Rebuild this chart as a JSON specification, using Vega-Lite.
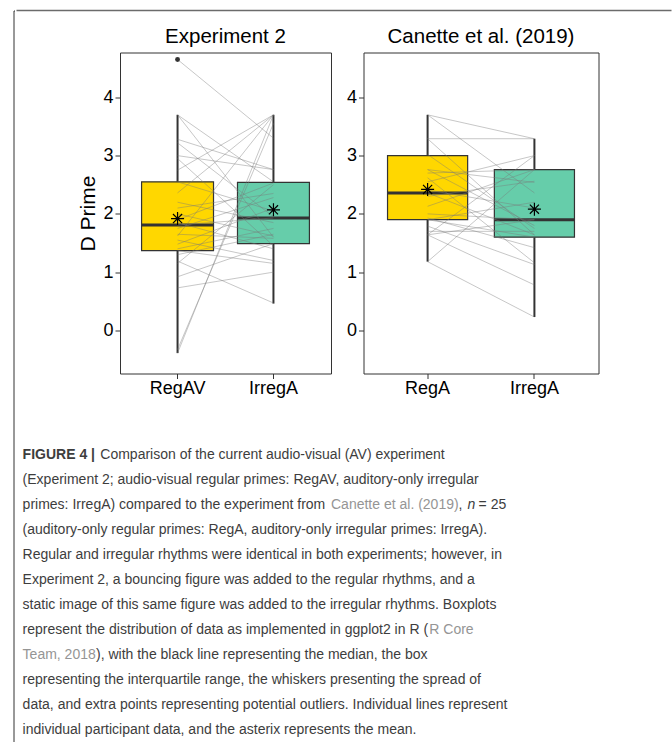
{
  "$schema": "https://vega.github.io/schema/vega-lite/v6.json",
  "background": "white",
  "padding": {"left": 12.5, "top": 9.5, "right": 0, "bottom": 0},
  "autosize": {"type": "pad"},
  "config": {
    "font": "Liberation Sans",
    "view": {"stroke": "#333333", "strokeWidth": 1},
    "axis": {"labelFont": "Liberation Sans", "labelFontSize": 18, "labelColor": "#000000", "titleFont": "Liberation Sans", "titleFontSize": 21, "titleFontWeight": "normal", "titleColor": "#000000", "tickColor": "#333333", "tickSize": 5, "domain": false, "grid": false},
    "title": {"font": "Liberation Sans", "fontSize": 20.5, "fontWeight": "normal", "color": "#000000", "offset": 5, "baseline": "alphabetic", "frame": "group"},
    "text": {"font": "Liberation Sans", "fontSize": 14, "align": "left", "baseline": "alphabetic"}
  },
  "datasets": {
    "exp2": [
      {"id":1,"RegAV":4.65,"IrregA":3.30},{"id":2,"RegAV":3.70,"IrregA":2.55},{"id":3,"RegAV":3.70,"IrregA":1.60},
      {"id":4,"RegAV":3.28,"IrregA":2.76},{"id":5,"RegAV":3.22,"IrregA":1.95},{"id":6,"RegAV":3.00,"IrregA":2.76},
      {"id":7,"RegAV":2.95,"IrregA":1.45},{"id":8,"RegAV":2.75,"IrregA":3.70},{"id":9,"RegAV":2.55,"IrregA":2.05},
      {"id":10,"RegAV":2.36,"IrregA":3.70},{"id":11,"RegAV":2.20,"IrregA":1.85},{"id":12,"RegAV":2.10,"IrregA":2.35},
      {"id":13,"RegAV":2.00,"IrregA":1.62},{"id":14,"RegAV":1.90,"IrregA":2.53},{"id":15,"RegAV":1.85,"IrregA":1.40},
      {"id":16,"RegAV":1.81,"IrregA":1.93},{"id":17,"RegAV":1.75,"IrregA":2.28},{"id":18,"RegAV":1.65,"IrregA":1.58},
      {"id":19,"RegAV":1.62,"IrregA":3.70},{"id":20,"RegAV":1.55,"IrregA":1.20},{"id":21,"RegAV":1.48,"IrregA":2.10},
      {"id":22,"RegAV":1.40,"IrregA":1.75},{"id":23,"RegAV":1.37,"IrregA":1.15},{"id":24,"RegAV":1.30,"IrregA":1.65},
      {"id":25,"RegAV":1.19,"IrregA":0.47},{"id":26,"RegAV":1.15,"IrregA":2.50},{"id":27,"RegAV":0.92,"IrregA":1.49},
      {"id":28,"RegAV":0.73,"IrregA":1.00},{"id":29,"RegAV":-0.33,"IrregA":3.55},{"id":30,"RegAV":-0.39,"IrregA":3.70}
    ],
    "canette": [
      {"id":1,"RegA":3.70,"IrregA":3.29},{"id":2,"RegA":3.70,"IrregA":2.36},{"id":3,"RegA":3.29,"IrregA":3.29},
      {"id":4,"RegA":3.29,"IrregA":1.64},{"id":5,"RegA":3.02,"IrregA":1.75},{"id":6,"RegA":2.76,"IrregA":2.54},
      {"id":7,"RegA":2.76,"IrregA":1.80},{"id":8,"RegA":2.70,"IrregA":2.76},{"id":9,"RegA":2.62,"IrregA":1.16},
      {"id":10,"RegA":2.55,"IrregA":3.00},{"id":11,"RegA":2.41,"IrregA":2.10},{"id":12,"RegA":2.36,"IrregA":1.64},
      {"id":13,"RegA":2.30,"IrregA":2.56},{"id":14,"RegA":2.13,"IrregA":2.76},{"id":15,"RegA":2.00,"IrregA":1.90},
      {"id":16,"RegA":1.93,"IrregA":1.42},{"id":17,"RegA":1.90,"IrregA":1.60},{"id":18,"RegA":1.90,"IrregA":2.20},
      {"id":19,"RegA":1.79,"IrregA":1.13},{"id":20,"RegA":1.70,"IrregA":1.70},{"id":21,"RegA":1.64,"IrregA":3.00},
      {"id":22,"RegA":1.64,"IrregA":0.78},{"id":23,"RegA":1.64,"IrregA":1.90},{"id":24,"RegA":1.18,"IrregA":2.76},
      {"id":25,"RegA":1.18,"IrregA":0.23}
    ],
    "stats": [
      {"study":"Experiment 2","cond":"RegAV","lower":-0.39,"q1":1.37,"median":1.81,"q3":2.55,"upper":3.70,"mean":1.92},
      {"study":"Experiment 2","cond":"IrregA","lower":0.46,"q1":1.49,"median":1.93,"q3":2.54,"upper":3.70,"mean":2.07},
      {"study":"Canette","cond":"RegA","lower":1.18,"q1":1.90,"median":2.36,"q3":3.00,"upper":3.70,"mean":2.42},
      {"study":"Canette","cond":"IrregA","lower":0.23,"q1":1.60,"median":1.90,"q3":2.76,"upper":3.29,"mean":2.08}
    ],
    "caption": [
      {"seg":"lead","line":1,"text":"FIGURE 4 |"},
      {"seg":"l1","line":1,"text":"Comparison of the current audio-visual (AV) experiment"},
      {"seg":"start","line":2,"text":"(Experiment 2; audio-visual regular primes: RegAV, auditory-only irregular"},
      {"seg":"start","line":3,"text":"primes: IrregA) compared to the experiment from"},
      {"seg":"l3cite","line":3,"text":"Canette et al. (2019)"},
      {"seg":"l3comma","line":3,"text":","},
      {"seg":"l3n","line":3,"text":"n"},
      {"seg":"l3eq","line":3,"text":"= 25"},
      {"seg":"start","line":4,"text":"(auditory-only regular primes: RegA, auditory-only irregular primes: IrregA)."},
      {"seg":"start","line":5,"text":"Regular and irregular rhythms were identical in both experiments; however, in"},
      {"seg":"start","line":6,"text":"Experiment 2, a bouncing figure was added to the regular rhythms, and a"},
      {"seg":"start","line":7,"text":"static image of this same figure was added to the irregular rhythms. Boxplots"},
      {"seg":"start","line":8,"text":"represent the distribution of data as implemented in ggplot2 in R ("},
      {"seg":"l8cite","line":8,"text":"R Core"},
      {"seg":"l9cite","line":9,"text":"Team, 2018"},
      {"seg":"l9tail","line":9,"text":"), with the black line representing the median, the box"},
      {"seg":"start","line":10,"text":"representing the interquartile range, the whiskers presenting the spread of"},
      {"seg":"start","line":11,"text":"data, and extra points representing potential outliers. Individual lines represent"},
      {"seg":"start","line":12,"text":"individual participant data, and the asterix represents the mean."}
    ]
  },
  "spacing": 0,
  "hconcat": [
    {
      "width": 1,
      "height": 740,
      "view": {"stroke": "#333333", "strokeWidth": 1, "strokeDash": [1, 741, 740, 0]},
      "data": {"values": []},
      "mark": "point",
      "encoding": {}
    },
    {
      "spacing": 14,
      "vconcat": [
        {
          "width": 655,
          "height": 1,
          "view": {"stroke": "#6b6b6b", "strokeWidth": 1.5, "strokeDash": [655, 657]},
          "data": {"values": []},
          "mark": "point",
          "encoding": {}
        },
        {
          "spacing": 13.5,
          "resolve": {"scale": {"x": "independent", "y": "independent"}},
          "hconcat": [
            {
              "width": 47,
              "height": 5,
              "view": {"stroke": null},
              "data": {"values": []},
              "mark": "point",
              "encoding": {}
            },
            {
              "width": 211,
              "height": 321,
              "title": "Experiment 2",
              "layer": [
                {
                  "data": {"name": "stats"},
                  "transform": [{"filter": "datum.study === 'Experiment 2'"}],
                  "mark": {"type": "rule", "color": "#333333", "strokeWidth": 2},
                  "encoding": {
                    "x": {"field": "cond", "type": "nominal", "title": null, "scale": {"domain": ["RegAV", "IrregA"], "paddingInner": 0, "paddingOuter": 0.1}, "axis": {"labelAngle": 0, "labelPadding": 1}},
                    "y": {"field": "lower", "type": "quantitative", "title": "D Prime", "scale": {"domain": [-0.74, 4.77], "nice": false, "zero": false}, "axis": {"values": [0, 1, 2, 3, 4], "format": "d", "titlePadding": 4, "labelPadding": 2}},
                    "y2": {"field": "q1"}
                  }
                },
                {
                  "data": {"name": "stats"},
                  "transform": [{"filter": "datum.study === 'Experiment 2'"}],
                  "mark": {"type": "rule", "color": "#333333", "strokeWidth": 2},
                  "encoding": {
                    "x": {"field": "cond", "type": "nominal", "title": null},
                    "y": {"field": "q3", "type": "quantitative", "title": "D Prime"},
                    "y2": {"field": "upper"}
                  }
                },
                {
                  "data": {"name": "stats"},
                  "transform": [{"filter": "datum.study === 'Experiment 2'"}],
                  "mark": {"type": "bar", "width": {"band": 0.75}, "stroke": "#333333", "strokeWidth": 1.2},
                  "encoding": {
                    "x": {"field": "cond", "type": "nominal", "title": null},
                    "y": {"field": "q1", "type": "quantitative", "title": "D Prime"},
                    "y2": {"field": "q3"},
                    "color": {"field": "cond", "type": "nominal", "scale": {"domain": ["RegAV", "RegA", "IrregA"], "range": ["#FFD700", "#FFD700", "#66CDAA"]}, "legend": null}
                  }
                },
                {
                  "data": {"name": "stats"},
                  "transform": [{"filter": "datum.study === 'Experiment 2'"}],
                  "mark": {"type": "tick", "orient": "horizontal", "size": 72, "thickness": 3, "color": "#333333", "opacity": 1},
                  "encoding": {
                    "x": {"field": "cond", "type": "nominal", "title": null},
                    "y": {"field": "median", "type": "quantitative", "title": "D Prime"}
                  }
                },
                {
                  "data": {"name": "exp2"},
                  "transform": [{"fold": ["RegAV", "IrregA"], "as": ["cond", "value"]}],
                  "mark": {"type": "line", "color": "#7a7a7a", "opacity": 0.42, "strokeWidth": 1},
                  "encoding": {
                    "x": {"field": "cond", "type": "nominal", "title": null},
                    "y": {"field": "value", "type": "quantitative", "title": "D Prime"},
                    "detail": {"field": "id", "type": "nominal"}
                  }
                },
                {
                  "data": {"name": "exp2"},
                  "transform": [{"fold": ["RegAV", "IrregA"], "as": ["cond", "value"]}, {"filter": "datum.value > 4"}],
                  "mark": {"type": "point", "shape": "circle", "filled": true, "size": 24, "color": "#333333", "opacity": 1},
                  "encoding": {
                    "x": {"field": "cond", "type": "nominal", "title": null},
                    "y": {"field": "value", "type": "quantitative", "title": "D Prime"}
                  }
                },
                {
                  "data": {"name": "stats"},
                  "transform": [{"filter": "datum.study === 'Experiment 2'"}],
                  "mark": {"type": "point", "shape": "M-1,0L1,0M0,-1L0,1M-0.7,-0.7L0.7,0.7M-0.7,0.7L0.7,-0.7", "filled": false, "size": 170, "color": "#000000", "strokeWidth": 1.2, "opacity": 1},
                  "encoding": {
                    "x": {"field": "cond", "type": "nominal", "title": null},
                    "y": {"field": "mean", "type": "quantitative", "title": "D Prime"}
                  }
                }
              ]
            },
            {
              "width": 235,
              "height": 321,
              "title": "Canette et al. (2019)",
              "layer": [
                {
                  "data": {"name": "stats"},
                  "transform": [{"filter": "datum.study === 'Canette'"}],
                  "mark": {"type": "rule", "color": "#333333", "strokeWidth": 2},
                  "encoding": {
                    "x": {"field": "cond", "type": "nominal", "title": null, "scale": {"domain": ["RegA", "IrregA"], "paddingInner": 0, "paddingOuter": 0.1}, "axis": {"labelAngle": 0, "labelPadding": 1}},
                    "y": {"field": "lower", "type": "quantitative", "title": null, "scale": {"domain": [-0.74, 4.77], "nice": false, "zero": false}, "axis": {"values": [0, 1, 2, 3, 4], "format": "d", "labelPadding": 2}},
                    "y2": {"field": "q1"}
                  }
                },
                {
                  "data": {"name": "stats"},
                  "transform": [{"filter": "datum.study === 'Canette'"}],
                  "mark": {"type": "rule", "color": "#333333", "strokeWidth": 2},
                  "encoding": {
                    "x": {"field": "cond", "type": "nominal", "title": null},
                    "y": {"field": "q3", "type": "quantitative", "title": null},
                    "y2": {"field": "upper"}
                  }
                },
                {
                  "data": {"name": "stats"},
                  "transform": [{"filter": "datum.study === 'Canette'"}],
                  "mark": {"type": "bar", "width": {"band": 0.75}, "stroke": "#333333", "strokeWidth": 1.2},
                  "encoding": {
                    "x": {"field": "cond", "type": "nominal", "title": null},
                    "y": {"field": "q1", "type": "quantitative", "title": null},
                    "y2": {"field": "q3"},
                    "color": {"field": "cond", "type": "nominal", "scale": {"domain": ["RegAV", "RegA", "IrregA"], "range": ["#FFD700", "#FFD700", "#66CDAA"]}, "legend": null}
                  }
                },
                {
                  "data": {"name": "stats"},
                  "transform": [{"filter": "datum.study === 'Canette'"}],
                  "mark": {"type": "tick", "orient": "horizontal", "size": 80, "thickness": 3, "color": "#333333", "opacity": 1},
                  "encoding": {
                    "x": {"field": "cond", "type": "nominal", "title": null},
                    "y": {"field": "median", "type": "quantitative", "title": null}
                  }
                },
                {
                  "data": {"name": "canette"},
                  "transform": [{"fold": ["RegA", "IrregA"], "as": ["cond", "value"]}],
                  "mark": {"type": "line", "color": "#7a7a7a", "opacity": 0.42, "strokeWidth": 1},
                  "encoding": {
                    "x": {"field": "cond", "type": "nominal", "title": null},
                    "y": {"field": "value", "type": "quantitative", "title": null},
                    "detail": {"field": "id", "type": "nominal"}
                  }
                },
                {
                  "data": {"name": "stats"},
                  "transform": [{"filter": "datum.study === 'Canette'"}],
                  "mark": {"type": "point", "shape": "M-1,0L1,0M0,-1L0,1M-0.7,-0.7L0.7,0.7M-0.7,0.7L0.7,-0.7", "filled": false, "size": 170, "color": "#000000", "strokeWidth": 1.2, "opacity": 1},
                  "encoding": {
                    "x": {"field": "cond", "type": "nominal", "title": null},
                    "y": {"field": "mean", "type": "quantitative", "title": null}
                  }
                }
              ]
            }
          ]
        },
        {
          "width": 640,
          "height": 330,
          "view": {"stroke": null},
          "data": {"name": "caption"},
          "encoding": {
            "x": {"datum": 0, "type": "quantitative", "scale": {"domain": [-1, 103.9], "nice": false, "zero": false}, "axis": null},
            "y": {"field": "line", "type": "quantitative", "scale": {"domain": [-0.852, 12.348], "nice": false, "zero": false, "reverse": true}, "axis": null},
            "text": {"field": "text"}
          },
          "layer": [
            {"transform": [{"filter": "datum.seg === 'start'"}], "mark": {"type": "text", "color": "#3d3d3d"}},
            {"transform": [{"filter": "datum.seg === 'lead'"}], "mark": {"type": "text", "fontWeight": "bold", "color": "#3d3d3d"}},
            {"transform": [{"filter": "datum.seg === 'l1'"}], "mark": {"type": "text", "color": "#3d3d3d", "dx": 77.7}},
            {"transform": [{"filter": "datum.seg === 'l3cite'"}], "mark": {"type": "text", "color": "#959595", "dx": 308.4}},
            {"transform": [{"filter": "datum.seg === 'l3comma'"}], "mark": {"type": "text", "color": "#3d3d3d", "dx": 436}},
            {"transform": [{"filter": "datum.seg === 'l3n'"}], "mark": {"type": "text", "fontStyle": "italic", "color": "#3d3d3d", "dx": 445}},
            {"transform": [{"filter": "datum.seg === 'l3eq'"}], "mark": {"type": "text", "color": "#3d3d3d", "dx": 456}},
            {"transform": [{"filter": "datum.seg === 'l8cite'"}], "mark": {"type": "text", "color": "#959595", "dx": 406.7}},
            {"transform": [{"filter": "datum.seg === 'l9cite'"}], "mark": {"type": "text", "color": "#959595"}},
            {"transform": [{"filter": "datum.seg === 'l9tail'"}], "mark": {"type": "text", "color": "#3d3d3d", "dx": 73.4}}
          ]
        }
      ]
    },
    {
      "width": 1,
      "height": 740,
      "view": {"stroke": "#6b6b6b", "strokeWidth": 1.5, "strokeDash": [1, 741, 740, 0]},
      "data": {"values": []},
      "mark": "point",
      "encoding": {}
    }
  ]
}
